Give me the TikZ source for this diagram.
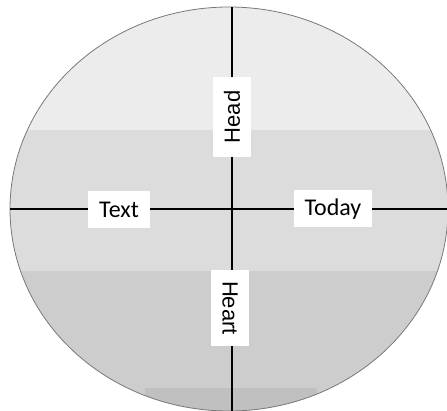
\documentclass[tikz,border=0pt]{standalone}
\usepackage{fontspec}
\usepackage{tikz}
\usetikzlibrary{positioning}
\newfontfamily\calfont{Carlito}
\newfontfamily\arifont{Liberation Sans}
\definecolor{bandone}{RGB}{236,236,236}
\definecolor{bandtwo}{RGB}{220,220,220}
\definecolor{bandthree}{RGB}{205,205,205}
\definecolor{bandfour}{RGB}{192,192,192}
\definecolor{rimgray}{RGB}{120,120,120}
\tikzset{
  axisline/.style={black, line width=1.3pt},
  hlabel/.style={rectangle, fill=white, inner xsep=11pt, minimum height=37pt,
    font=\calfont\fontsize{24}{24}\selectfont},
  vlabel/.style={rectangle, fill=white, minimum height=38pt,
    font=\arifont\fontsize{22}{22}\selectfont},
  rim/.style={draw=rimgray, line width=0.8pt}
}
\begin{document}
\begin{tikzpicture}[x=1pt, y=-1pt]
  \useasboundingbox (0,0) rectangle (447,411);

  % shaded bands inside the oval
  \begin{scope}
    \clip (229,209) ellipse [x radius=219, y radius=202];
    \fill[bandone] (0,0) rectangle (447,130);
    \fill[bandtwo] (0,130) rectangle (447,271);
    \fill[bandthree] (0,271) rectangle (447,411);
    \fill[bandfour] (145,388) rectangle (317,411);
  \end{scope}
  \draw[rim] (229,209) ellipse [x radius=219, y radius=202];

  % axes
  \coordinate (top) at (232,7);
  \coordinate (bottom) at (232,411);
  \coordinate (left) at (10,209);
  \coordinate (right) at (447,209);
  \draw[axisline] (top) -- (bottom);
  \draw[axisline] (left) -- (right);

  % labels
  \node[vlabel, rotate=90, minimum width=80pt] (head) at (232,117) {Head};
  \node[vlabel, rotate=-90, minimum width=76pt] (heart) at (230,308) {Heart};
  \node[hlabel] (text) at (119,210) {Text};
  \node[hlabel] (today) at (333,209) {Today};
\end{tikzpicture}
\end{document}
